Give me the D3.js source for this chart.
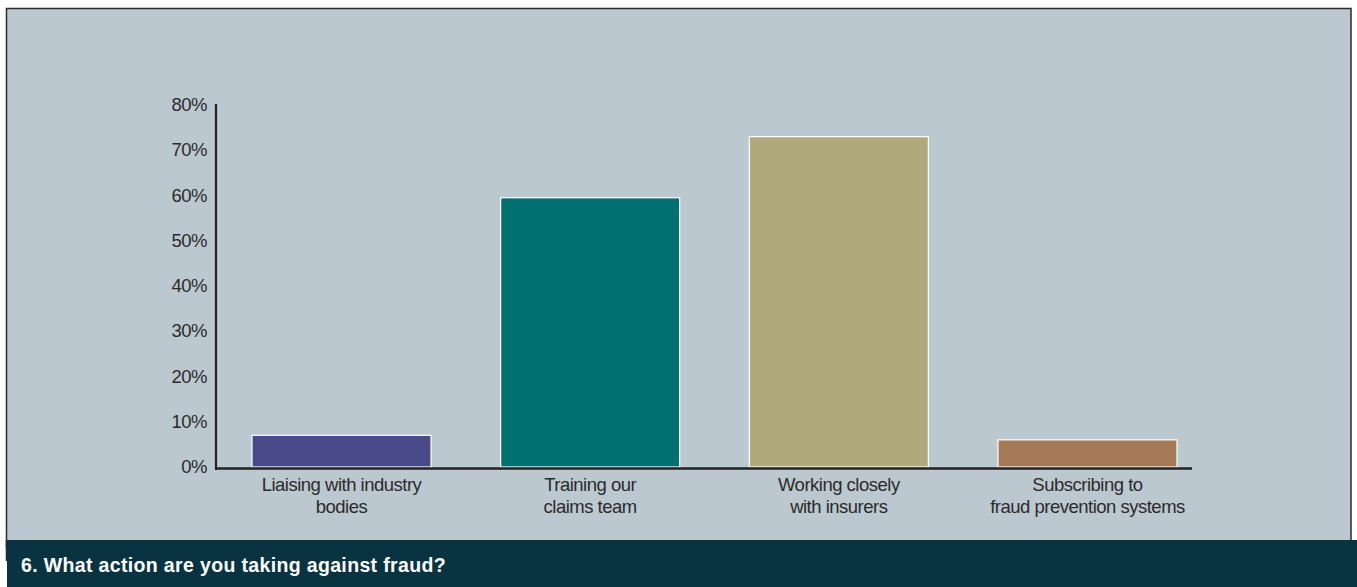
<!DOCTYPE html>
<html>
<head>
<meta charset="utf-8">
<script src="https://cdn.jsdelivr.net/npm/d3@7"></script>
<style>
  html, body { margin: 0; padding: 0; background: #ffffff; }
  svg { display: block; }
</style>
</head>
<body>
<svg id="chart" width="1357" height="587"></svg>
<script>
// Survey responses: share of respondents taking each action against fraud
const categories = [
  ["Liaising with industry", "bodies"],
  ["Training our", "claims team"],
  ["Working closely", "with insurers"],
  ["Subscribing to", "fraud prevention systems"]
];
const values = [7, 59.5, 73, 6];
const barColors = ["#4a4a8a", "#007070", "#b0a97c", "#a47a58"];
const yTicks = [0, 10, 20, 30, 40, 50, 60, 70, 80];
const title = "6. What action are you taking against fraud?";

const W = 1357, H = 587;
const svg = d3.select("#chart");
const font = "'Liberation Sans', Arial, sans-serif";

// panel background with frame
svg.append("rect").attr("x", 6.5).attr("y", 8.5).attr("width", 1344.5).attr("height", 540)
  .attr("fill", "#bcc8d0").attr("stroke", "#2a2a2a").attr("stroke-width", 1.5);

// footer band
svg.append("rect").attr("x", 7).attr("y", 540).attr("width", W - 7).attr("height", H - 540)
  .attr("fill", "#0a3341");
svg.append("line").attr("x1", 6.5).attr("x2", 6.5).attr("y1", 540).attr("y2", 561)
  .attr("stroke", "#2a2a2a").attr("stroke-width", 1.5);

svg.append("text").attr("x", 21).attr("y", 572)
  .attr("font-family", font).attr("font-weight", "bold").attr("font-size", 19.5)
  .attr("letter-spacing", 0.35)
  .attr("fill", "#ffffff").text(title);

// scales
const y = d3.scaleLinear().domain([0, 80]).range([467, 105]);
const x = d3.scaleBand().domain(d3.range(categories.length)).range([252, 1177])
  .paddingInner(0.28).paddingOuter(0);

// bars
svg.append("g").selectAll("rect").data(values).join("rect")
  .attr("x", (d, i) => x(i))
  .attr("y", d => y(d))
  .attr("width", x.bandwidth())
  .attr("height", d => y(0) - y(d))
  .attr("fill", (d, i) => barColors[i])
  .attr("stroke", "#ffffff").attr("stroke-width", 1.2);

// y axis
const yAxis = d3.axisLeft(y).tickValues(yTicks).tickSize(0).tickPadding(9)
  .tickFormat(d => d + "%");
const gy = svg.append("g").attr("transform", "translate(216,0)").call(yAxis);
gy.select(".domain").remove();
gy.selectAll("text").attr("font-family", font).attr("font-size", 18.5)
  .attr("letter-spacing", -0.5).attr("dy", "0.3em").attr("fill", "#2b2b2b");
svg.append("line").attr("x1", 216).attr("x2", 216).attr("y1", 104).attr("y2", 470)
  .attr("stroke", "#222").attr("stroke-width", 2.2);

// x axis baseline
svg.append("line").attr("x1", 215).attr("x2", 1192).attr("y1", 468.5).attr("y2", 468.5)
  .attr("stroke", "#222").attr("stroke-width", 2.4);

// category labels
const lab = svg.append("g").selectAll("text").data(categories).join("text")
  .attr("font-family", font).attr("font-size", 18.5).attr("letter-spacing", -0.5)
  .attr("fill", "#2b2b2b").attr("text-anchor", "middle");
lab.selectAll("tspan").data((d, i) => d.map(t => ({ t, i }))).join("tspan")
  .attr("x", d => x(d.i) + x.bandwidth() / 2)
  .attr("y", (d, j) => 491 + j * 21.5)
  .text(d => d.t);
</script>
</body>
</html>
